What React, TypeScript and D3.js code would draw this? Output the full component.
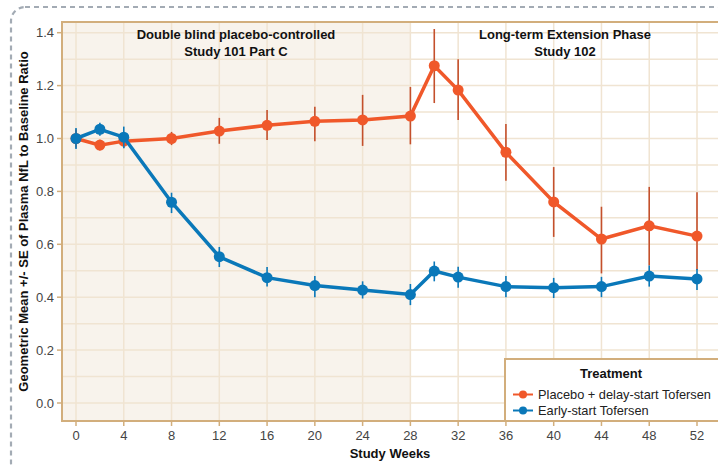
import React, { useEffect, useRef } from 'react';
import * as d3 from 'd3';

const weeks = [0, 2, 4, 8, 12, 16, 20, 24, 28, 30, 32, 36, 40, 44, 48, 52];
const placeboMean = [1.0, 0.975, 0.99, 1.0, 1.028, 1.05, 1.065, 1.07, 1.085, 1.275, 1.183, 0.948, 0.76, 0.62, 0.67, 0.631];
const placeboLo = [0.965, 0.955, 0.965, 0.975, 0.98, 0.994, 0.99, 0.972, 0.978, 1.134, 1.07, 0.84, 0.628, 0.49, 0.52, 0.503];
const placeboHi = [1.035, 0.995, 1.015, 1.025, 1.078, 1.108, 1.12, 1.165, 1.195, 1.414, 1.30, 1.055, 0.892, 0.742, 0.817, 0.797];
const earlyMean = [1.0, 1.035, 1.005, 0.759, 0.553, 0.474, 0.444, 0.427, 0.41, 0.499, 0.476, 0.44, 0.436, 0.44, 0.48, 0.469];
const earlyLo = [0.96, 1.01, 0.963, 0.718, 0.514, 0.44, 0.40, 0.395, 0.37, 0.46, 0.436, 0.40, 0.397, 0.40, 0.44, 0.427];
const earlyHi = [1.04, 1.06, 1.045, 0.795, 0.59, 0.514, 0.48, 0.46, 0.45, 0.535, 0.515, 0.48, 0.473, 0.477, 0.52, 0.507];
const xTicks = [0, 4, 8, 12, 16, 20, 24, 28, 32, 36, 40, 44, 48, 52];
const yTicks = [0, 0.2, 0.4, 0.6, 0.8, 1.0, 1.2, 1.4];
const yMinor = [0.1, 0.3, 0.5, 0.7, 0.9, 1.1, 1.3];
const phaseSplit = 28;
const seriesNames = ['Placebo + delay-start Tofersen', 'Early-start Tofersen'];

const App = () => {
  const ref = useRef<SVGSVGElement>(null);

  useEffect(() => {
    const svg = d3.select(ref.current);
    svg.selectAll('*').remove();
    const W = 718;
    const left = 62, top = 22, bottom = 421;
    const x = d3.scaleLinear().domain([0, 52]).range([76, 697]);
    const y = d3.scaleLinear().domain([0, 1.4]).range([403, 32.7]);
    const font = 'Liberation Sans, Arial, sans-serif';
    const tan = '#d2ae7c';
    const grid = '#f0e4d2';

    // outer dashed frame
    svg.append('rect')
      .attr('x', 11).attr('y', 7).attr('width', 720).attr('height', 470)
      .attr('rx', 14)
      .attr('fill', 'none').attr('stroke', '#a3abb4').attr('stroke-width', 2.2)
      .attr('stroke-dasharray', '5,4');

    // backgrounds
    svg.append('rect').attr('x', left).attr('y', top).attr('width', W - left).attr('height', bottom - top).attr('fill', '#fff');
    svg.append('rect').attr('x', left).attr('y', top).attr('width', x(phaseSplit) - left).attr('height', bottom - top).attr('fill', '#f8f3ec');

    // grid
    const g = svg.append('g');
    g.selectAll('.hmin').data(yMinor.concat(yTicks)).enter().append('line')
      .attr('x1', left).attr('x2', W).attr('y1', d => y(d)).attr('y2', d => y(d))
      .attr('stroke', grid).attr('stroke-width', 1.5);
    g.selectAll('.v').data(xTicks).enter().append('line')
      .attr('x1', d => x(d)).attr('x2', d => x(d)).attr('y1', top).attr('y2', bottom)
      .attr('stroke', grid).attr('stroke-width', 1.5);

    // phase titles
    const titles = [
      { cx: 236, lines: ['Double blind placebo-controlled', 'Study 101 Part C'] },
      { cx: 565, lines: ['Long-term Extension Phase', 'Study 102'] },
    ];
    titles.forEach(t => {
      t.lines.forEach((l, i) => {
        svg.append('text').attr('x', t.cx).attr('y', 39 + i * 16.5)
          .attr('text-anchor', 'middle').attr('font-family', font)
          .attr('font-weight', 'bold').attr('font-size', 13).attr('fill', '#111').text(l);
      });
    });

    // axes lines
    svg.append('line').attr('x1', left).attr('x2', W).attr('y1', top).attr('y2', top).attr('stroke', tan).attr('stroke-width', 2);
    svg.append('line').attr('x1', left).attr('x2', left).attr('y1', top - 1).attr('y2', bottom + 1).attr('stroke', tan).attr('stroke-width', 2);
    svg.append('line').attr('x1', left - 1).attr('x2', W).attr('y1', bottom).attr('y2', bottom).attr('stroke', tan).attr('stroke-width', 2);

    // ticks
    yTicks.forEach(v => {
      svg.append('line').attr('x1', left - 5).attr('x2', left).attr('y1', y(v)).attr('y2', y(v)).attr('stroke', tan).attr('stroke-width', 1.5);
      svg.append('text').attr('x', left - 8).attr('y', y(v) + 4.5).attr('text-anchor', 'end')
        .attr('font-family', font).attr('font-size', 13).attr('fill', '#444').text(d3.format('.1f')(v));
    });
    xTicks.forEach(v => {
      svg.append('line').attr('x1', x(v)).attr('x2', x(v)).attr('y1', bottom).attr('y2', bottom + 5).attr('stroke', tan).attr('stroke-width', 1.5);
      svg.append('text').attr('x', x(v)).attr('y', bottom + 19).attr('text-anchor', 'middle')
        .attr('font-family', font).attr('font-size', 13).attr('fill', '#444').text(v);
    });

    svg.append('text').attr('x', 390).attr('y', 458).attr('text-anchor', 'middle')
      .attr('font-family', font).attr('font-weight', 'bold').attr('font-size', 13).attr('fill', '#111').text('Study Weeks');
    svg.append('text').attr('transform', `translate(28,${(top + bottom) / 2}) rotate(-90)`).attr('text-anchor', 'middle')
      .attr('font-family', font).attr('font-weight', 'bold').attr('font-size', 13).attr('fill', '#111')
      .text('Geometric Mean +/- SE of Plasma NfL to Baseline Ratio');

    const series = [
      { mean: placeboMean, lo: placeboLo, hi: placeboHi, color: '#f0582a', bar: '#c4502c' },
      { mean: earlyMean, lo: earlyLo, hi: earlyHi, color: '#0a78b9', bar: '#0a78b9' },
    ];
    const line = d3.line<number>().x((d, i) => x(weeks[i])).y(d => y(d));
    series.forEach(s => {
      const sg = svg.append('g');
      sg.append('path').attr('d', line(s.mean)).attr('fill', 'none').attr('stroke', s.color).attr('stroke-width', 3.5);
      sg.selectAll('line.err').data(s.mean).enter().append('line')
        .attr('x1', (d, i) => x(weeks[i])).attr('x2', (d, i) => x(weeks[i]))
        .attr('y1', (d, i) => y(s.lo[i])).attr('y2', (d, i) => y(s.hi[i]))
        .attr('stroke', s.bar).attr('stroke-width', 1.6);
      sg.selectAll('circle').data(s.mean).enter().append('circle')
        .attr('cx', (d, i) => x(weeks[i])).attr('cy', d => y(d)).attr('r', 5.5).attr('fill', s.color);
    });

    // legend
    const lg = svg.append('g');
    lg.append('rect').attr('x', 505).attr('y', 359).attr('width', 230).attr('height', bottom - 359)
      .attr('fill', '#fff').attr('stroke', tan).attr('stroke-width', 2);
    lg.append('text').attr('x', 611).attr('y', 378).attr('text-anchor', 'middle')
      .attr('font-family', font).attr('font-weight', 'bold').attr('font-size', 13).attr('fill', '#111').text('Treatment');
    const legColors = ['#f0582a', '#0a78b9'];
    seriesNames.forEach((n, i) => {
      const yy = 394.5 + i * 16;
      lg.append('line').attr('x1', 513).attr('x2', 533).attr('y1', yy).attr('y2', yy).attr('stroke', legColors[i]).attr('stroke-width', 2);
      lg.append('circle').attr('cx', 523).attr('cy', yy).attr('r', 4).attr('fill', legColors[i]);
      lg.append('text').attr('x', 538).attr('y', yy + 4.5).attr('font-family', font).attr('font-size', 12.8).attr('fill', '#222').text(n);
    });
  }, []);

  return (
    <div style={{ position: 'absolute', left: 0, top: 0 }}>
      <svg ref={ref} width={718} height={466} style={{ display: 'block' }}></svg>
    </div>
  );
};

export default App;
